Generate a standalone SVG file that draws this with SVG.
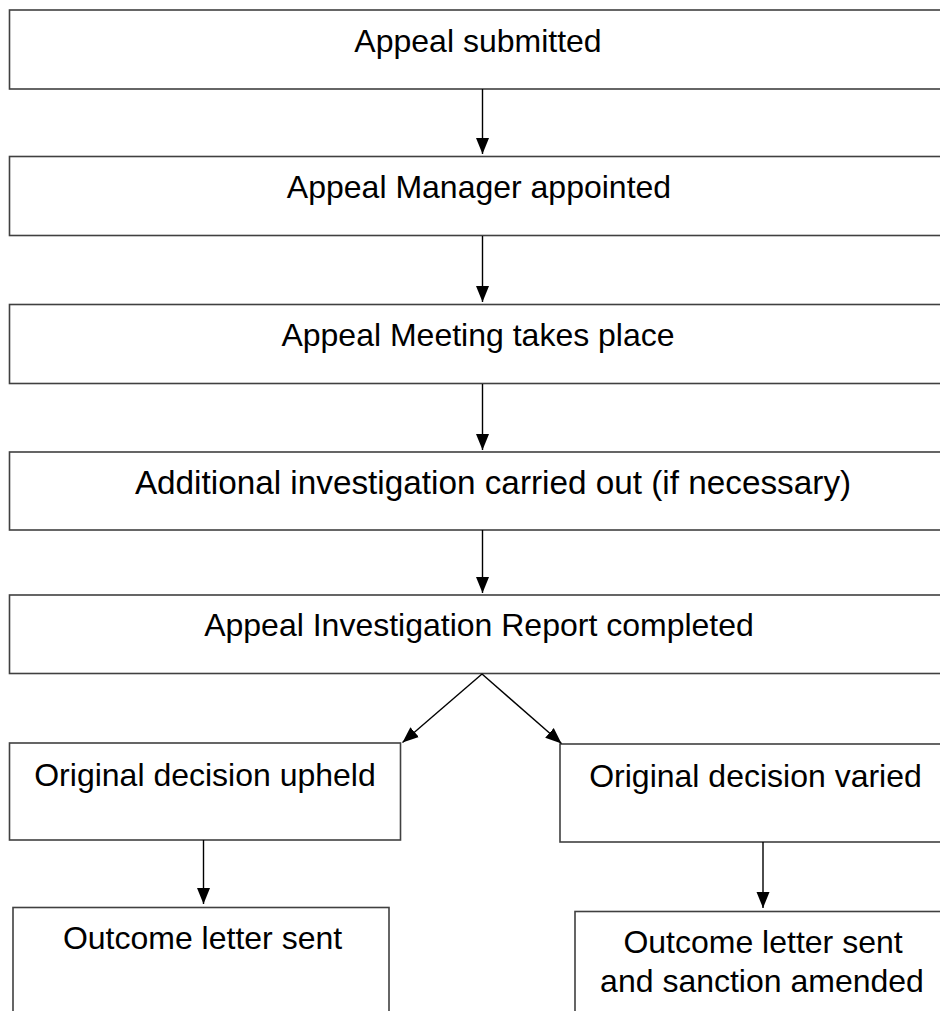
<svg xmlns="http://www.w3.org/2000/svg" width="940" height="1011" viewBox="0 0 940 1011">
<style>
.box{fill:#fff;stroke:#404040;stroke-width:1.6}
.lbl{font-family:"Liberation Sans",Arial,sans-serif;font-size:32px;fill:#000;text-anchor:middle}
.conn{stroke:#000;stroke-width:1.4;fill:none}
</style>
<defs>
<marker id="ah" markerUnits="userSpaceOnUse" markerWidth="17" markerHeight="14" refX="16" refY="7" orient="auto">
<path d="M0,0.5 L16,7 L0,13.5 Z" fill="#000"/>
</marker>
</defs>
<rect width="940" height="1011" fill="#fff"/>
<g id="n1"><rect class="box" x="9.5" y="10" width="960" height="79"/><text class="lbl" x="478" y="52">Appeal submitted</text></g>
<g id="n2"><rect class="box" x="9.5" y="156.5" width="960" height="79"/><text class="lbl" x="479" y="198">Appeal Manager appointed</text></g>
<g id="n3"><rect class="box" x="9.5" y="304.5" width="960" height="79"/><text class="lbl" x="478" y="346">Appeal Meeting takes place</text></g>
<g id="n4"><rect class="box" x="9.5" y="452" width="960" height="78"/><text class="lbl" x="493" y="494" style="font-size:33.3px">Additional investigation carried out (if necessary)</text></g>
<g id="n5"><rect class="box" x="9.5" y="595" width="960" height="78.5"/><text class="lbl" x="479" y="636">Appeal Investigation Report completed</text></g>
<g id="n6"><rect class="box" x="9.5" y="743" width="391" height="97"/><text class="lbl" x="205" y="786">Original decision upheld</text></g>
<g id="n7"><rect class="box" x="560" y="744" width="400" height="98"/><text class="lbl" x="755.5" y="787">Original decision varied</text></g>
<g id="n8"><rect class="box" x="13" y="907.5" width="376" height="120"/><text class="lbl" x="202.5" y="949">Outcome letter sent</text></g>
<g id="n9"><rect class="box" x="575" y="911.5" width="400" height="120"/><text class="lbl" x="763" y="953">Outcome letter sent</text><text class="lbl" x="762" y="992">and sanction amended</text></g>
<g id="connectors">
<line class="conn" x1="482.5" y1="89" x2="482.5" y2="154" marker-end="url(#ah)"/>
<line class="conn" x1="482.5" y1="236" x2="482.5" y2="302" marker-end="url(#ah)"/>
<line class="conn" x1="482.5" y1="384" x2="482.5" y2="450" marker-end="url(#ah)"/>
<line class="conn" x1="482.5" y1="530" x2="482.5" y2="593" marker-end="url(#ah)"/>
<line class="conn" x1="482" y1="674" x2="402.5" y2="742.5" marker-end="url(#ah)"/>
<line class="conn" x1="482" y1="674" x2="561.5" y2="743.5" marker-end="url(#ah)"/>
<line class="conn" x1="203.5" y1="840" x2="203.5" y2="904" marker-end="url(#ah)"/>
<line class="conn" x1="763" y1="842" x2="763" y2="908" marker-end="url(#ah)"/>
</g>
</svg>
